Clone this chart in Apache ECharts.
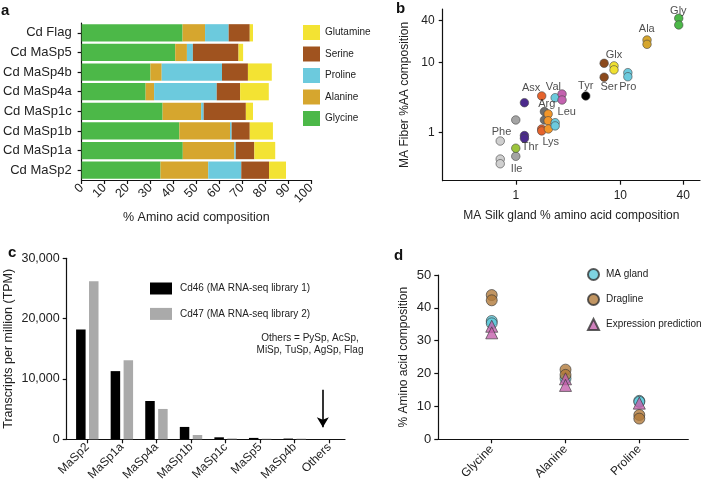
<!DOCTYPE html>
<html><head><meta charset="utf-8">
<script src="https://cdn.jsdelivr.net/npm/echarts@6/dist/echarts.min.js"></script>
<style>html,body{margin:0;padding:0;background:#fff}#c{width:702px;height:486px}</style>
</head><body><div id="c"></div>
<script>
// ---- Panel a: amino acid composition (%) ----
const aCategories = ['Cd Flag','Cd MaSp5','Cd MaSp4b','Cd MaSp4a','Cd MaSp1c','Cd MaSp1b','Cd MaSp1a','Cd MaSp2'];
const aGlycine   = [44.0, 40.8, 30.0, 27.9, 35.3, 42.6, 44.1, 34.4];
const aAlanine   = [9.8, 5.1, 4.9, 3.7, 16.8, 22.1, 22.5, 20.8];
const aProline   = [10.3, 2.6, 26.3, 27.3, 1.1, 0.7, 0.6, 14.4];
const aSerine    = [9.2, 19.9, 11.3, 10.2, 18.4, 7.9, 8.1, 12.1];
const aGlutamine = [1.4, 2.0, 10.4, 12.5, 3.1, 10.1, 9.1, 7.4];

// ---- Panel b: gland vs fiber (log-log), [gland %, fiber %] ----
const bGly = [[36.2,43.1],[36.2,34.6]];
const bAla = [[18.0,21.1],[18.0,18.3]];
const bGlx = [[8.7,9.0],[8.7,7.9]];
const bSer = [[7.0,9.8],[7.0,6.2]];
const bPro = [[11.8,7.2],[11.8,6.3]];
const bTyr = [[4.67,3.35]];
const bAsx = [[1.77,3.35]];
const bLys = [[1.77,1.13],[1.77,1.06]];
const bMet = [[1.21,2.68],[1.21,0.91],[1.21,0.83]];
const bVal = [[2.38,3.16],[2.38,1.39],[2.38,1.25]];
const bPink = [[2.77,3.57],[2.77,2.93]];
const bGray = [[1.0,1.52],[1.0,0.46]];
const bArg = [[1.88,2.0],[1.88,1.52]];
const bLeu = [[2.04,1.85],[2.04,1.48],[2.05,1.13]];
const bPhe = [[0.71,0.76],[0.71,0.42],[0.71,0.36]];
const bThr = [[1.0,0.60]];
const bLabels = [[35.9,55.5,'Gly'],[17.9,30.3,'Ala'],[8.7,12.9,'Glx'],[7.8,4.45,'Ser'],[11.8,4.45,'Pro'],
  [4.67,4.65,'Tyr'],[1.40,4.31,'Asx'],[2.29,4.45,'Val'],[1.98,2.57,'Arg'],[3.07,2.0,'Leu'],
  [2.16,0.74,'Lys'],[1.37,0.62,'Thr'],[1.02,0.30,'Ile'],[0.73,1.01,'Phe']];
const bTickValues = [1, 10, 40];

// ---- Panel c: transcripts per million ----
const cCategories = ['MaSp2','MaSp1a','MaSp4a','MaSp1b','MaSp1c','MaSp5','MaSp4b','Others'];
const cCd46 = [18200, 11300, 6350, 2050, 330, 230, 120, 0];
const cCd47 = [26200, 13100, 5030, 710, 150, 100, 110, 0];

// ---- Panel d: % amino acid composition ----
const dCategories = ['Glycine','Alanine','Proline'];
const dMAgland = [[0,36.0],[0,35.3],[1,18.5],[2,11.7],[2,11.4]];
const dDragline = [[0,43.9],[0,42.3],[1,21.2],[1,19.6],[2,7.4],[2,6.3]];
const dPrediction = [[0,34.4],[0,32.4],[1,18.4],[1,16.4],[2,11.0]];

const FONT = 'Liberation Sans, Arial, sans-serif';
const TXT = '#222';
const AX = {onZero:false, lineStyle:{color:'#111', width:1.2}};
const TK = {show:true, length:4, lineStyle:{color:'#111', width:1.2}};
const lg = v => Math.log10(v);
const toLog = arr => arr.map(p => [lg(p[0]), lg(p[1])]);

const chart = echarts.init(document.getElementById('c'), null, {renderer:'canvas'});

function bSeries(name, data, color){
  return {type:'scatter', name, xAxisIndex:1, yAxisIndex:1, data: toLog(data), symbolSize:8.5,
    itemStyle:{color, borderColor:'#444', borderWidth:0.6, opacity:1}, z:3};
}

const option = {
  animation:false,
  textStyle:{fontFamily:FONT},
  grid:[
    {left:72.3, top:23, width:238.7, height:157},
    {left:442.7, top:9, width:257.3, height:171.7},
    {left:66.7, top:258.3, width:278.3, height:181},
    {left:438.3, top:275, width:250, height:164.3}
  ],
  xAxis:[
    {gridIndex:0, type:'value', min:0, max:100, interval:10, axisLine:{show:true, ...AX}, axisTick:TK,
     splitLine:{show:false}, axisLabel:{rotate:45, fontSize:12.5, color:TXT, margin:6},
     name:'% Amino acid composition', nameLocation:'middle', nameGap:31, nameTextStyle:{fontSize:12.5, color:TXT}},
    {gridIndex:1, type:'value', min:lg(0.2), max:1.762, axisLine:{show:true, ...AX},
     axisTick:{...TK, customValues:bTickValues.map(lg)}, splitLine:{show:false},
     axisLabel:{customValues:bTickValues.map(lg), formatter:v=>String(Math.round(Math.pow(10,v))), fontSize:12, color:TXT, margin:9},
     name:'MA Silk gland % amino acid composition', nameLocation:'middle', nameGap:29, nameTextStyle:{fontSize:12, color:TXT}},
    {gridIndex:2, type:'value', min:-0.596, max:7.454, axisLine:{show:true, ...AX},
     axisTick:{...TK, customValues:cCategories.map((c,i)=>i)}, splitLine:{show:false},
     axisLabel:{customValues:cCategories.map((c,i)=>i), formatter:v=>cCategories[Math.round(v)], rotate:45, fontSize:12, color:TXT, margin:6}},
    {gridIndex:3, type:'value', min:-0.724, max:2.664, axisLine:{show:true, ...AX},
     axisTick:{...TK, customValues:dCategories.map((c,i)=>i)}, splitLine:{show:false},
     axisLabel:{customValues:dCategories.map((c,i)=>i), formatter:v=>dCategories[Math.round(v)], rotate:45, fontSize:12, color:TXT, margin:8}}
  ],
  yAxis:[
    {gridIndex:0, type:'category', data:aCategories, inverse:true, axisLine:{show:true, ...AX},
     axisTick:{...TK, alignWithLabel:true}, axisLabel:{fontSize:13, color:TXT, margin:10}},
    {gridIndex:1, type:'value', min:-0.686, max:1.767, axisLine:{show:true, ...AX},
     axisTick:{...TK, customValues:bTickValues.map(lg)}, splitLine:{show:false},
     axisLabel:{customValues:bTickValues.map(lg), formatter:v=>String(Math.round(Math.pow(10,v))), fontSize:12, color:TXT, margin:8},
     name:'MA Fiber %AA composition', nameLocation:'middle', nameGap:32, nameTextStyle:{fontSize:12, color:TXT}},
    {gridIndex:2, type:'value', min:0, max:30000, interval:10000, axisLine:{show:true, ...AX}, axisTick:TK,
     splitLine:{show:false}, axisLabel:{fontSize:12.5, color:TXT, margin:7, formatter:v=>v.toLocaleString('en-US')},
     name:'Transcripts per million (TPM)', nameLocation:'middle', nameGap:52, nameTextStyle:{fontSize:12.5, color:TXT}},
    {gridIndex:3, type:'value', min:0, max:50, interval:10, axisLine:{show:true, ...AX}, axisTick:TK,
     splitLine:{show:false}, axisLabel:{fontSize:13, color:TXT, margin:7},
     name:'% Amino acid composition', nameLocation:'middle', nameGap:29, nameTextStyle:{fontSize:12, color:TXT}}
  ],
  legend:[
    {data:['Glutamine','Serine','Proline','Alanine','Glycine'], orient:'vertical', left:303, top:25, padding:0,
     icon:'rect', itemWidth:17, itemHeight:15, itemGap:6.5, textStyle:{fontSize:10, color:TXT}, selectedMode:false},
    {data:['Cd46 (MA RNA-seq library 1)','Cd47 (MA RNA-seq library 2)'], orient:'vertical', left:150, top:282.5, padding:0,
     icon:'rect', itemWidth:22, itemHeight:12, itemGap:13.4, textStyle:{fontSize:10, color:TXT, padding:[0,0,0,3]}, selectedMode:false},
    {data:['MA gland','Dragline','Expression prediction'], orient:'vertical', left:587, top:268, padding:0,
     itemWidth:11, itemHeight:11, itemGap:12, textStyle:{fontSize:10, color:TXT, padding:[0,0,0,2]}, selectedMode:false}
  ],
  series:[
    {type:'bar', name:'Glycine', stack:'a', xAxisIndex:0, yAxisIndex:0, data:aGlycine, barCategoryGap:'12%', itemStyle:{color:'#4cb848'}},
    {type:'bar', name:'Alanine', stack:'a', xAxisIndex:0, yAxisIndex:0, data:aAlanine, barCategoryGap:'12%', itemStyle:{color:'#d6a62e'}},
    {type:'bar', name:'Proline', stack:'a', xAxisIndex:0, yAxisIndex:0, data:aProline, barCategoryGap:'12%', itemStyle:{color:'#6ccadd'}},
    {type:'bar', name:'Serine', stack:'a', xAxisIndex:0, yAxisIndex:0, data:aSerine, barCategoryGap:'12%', itemStyle:{color:'#a0531f'}},
    {type:'bar', name:'Glutamine', stack:'a', xAxisIndex:0, yAxisIndex:0, data:aGlutamine, barCategoryGap:'12%', itemStyle:{color:'#f3e333'}},

    bSeries('Phe', bPhe, '#cfcfcf'),
    bSeries('GrayAA', bGray, '#a4a4a4'),
    bSeries('Thr', bThr, '#9cc43c'),
    bSeries('Met', bMet, '#4b2a8c'),
    bSeries('Arg', bArg, '#6f6f6f'),
    bSeries('Lys', bLys, '#e5632d'),
    bSeries('Asx', bAsx, '#e5632d'),
    bSeries('Leu', bLeu, '#f2962a'),
    bSeries('Val', bVal, '#6ccadd'),
    bSeries('Pink', bPink, '#c462b0'),
    bSeries('Tyr', bTyr, '#000000'),
    bSeries('Ser', bSer, '#8c4a1c'),
    bSeries('Glx', bGlx, '#f0e030'),
    bSeries('Pro', bPro, '#6ccadd'),
    bSeries('Ala', bAla, '#d6a62e'),
    bSeries('Gly', bGly, '#4cb848'),
    {type:'scatter', name:'bLabels', xAxisIndex:1, yAxisIndex:1, symbolSize:0, z:4,
     data:bLabels.map(d=>[lg(d[0]), lg(d[1]), d[2]]),
     label:{show:true, position:'inside', formatter:p=>p.value[2], fontSize:11, color:TXT}},

    {type:'bar', name:'Cd46 (MA RNA-seq library 1)', xAxisIndex:2, yAxisIndex:2, data:cCd46.map((v,i)=>[i,v]),
     barWidth:9.5, barGap:'36%', itemStyle:{color:'#000'},
     markLine:{silent:true, symbol:['none','arrow'], symbolSize:[9,10], lineStyle:{color:'#000', width:1.6, type:'solid'},
       label:{show:false}, data:[[{coord:[7,8200]},{coord:[7,2000]}]]}},
    {type:'bar', name:'Cd47 (MA RNA-seq library 2)', xAxisIndex:2, yAxisIndex:2, data:cCd47.map((v,i)=>[i,v]),
     barWidth:9.5, barGap:'36%', itemStyle:{color:'#aaaaaa'}},

    {type:'scatter', name:'MA gland', xAxisIndex:3, yAxisIndex:3, data:dMAgland, symbol:'circle', symbolSize:11,
     itemStyle:{color:'#5ec8da', borderColor:'#333', borderWidth:0.8}},
    {type:'scatter', name:'Dragline', xAxisIndex:3, yAxisIndex:3, data:dDragline, symbol:'circle', symbolSize:11,
     itemStyle:{color:'#b27a3b', borderColor:'#333', borderWidth:0.8}},
    {type:'scatter', name:'Expression prediction', xAxisIndex:3, yAxisIndex:3, data:dPrediction, symbol:'triangle', symbolSize:12,
     itemStyle:{color:'#c462ad', borderColor:'#333', borderWidth:0.8}}
  ],
  graphic:[
    {type:'text', left:1, top:3, style:{text:'a', font:'bold 15px Liberation Sans', fill:'#111'}},
    {type:'text', left:396, top:1, style:{text:'b', font:'bold 15px Liberation Sans', fill:'#111'}},
    {type:'text', left:8, top:245, style:{text:'c', font:'bold 15px Liberation Sans', fill:'#111'}},
    {type:'text', left:394, top:248, style:{text:'d', font:'bold 15px Liberation Sans', fill:'#111'}},
    {type:'text', x:310, y:332, style:{text:'Others = PySp, AcSp,\nMiSp, TuSp, AgSp, Flag', textAlign:'center',
      font:'10px Liberation Sans', fill:TXT, lineHeight:12}}
  ]
};
chart.setOption(option);
</script></body></html>
